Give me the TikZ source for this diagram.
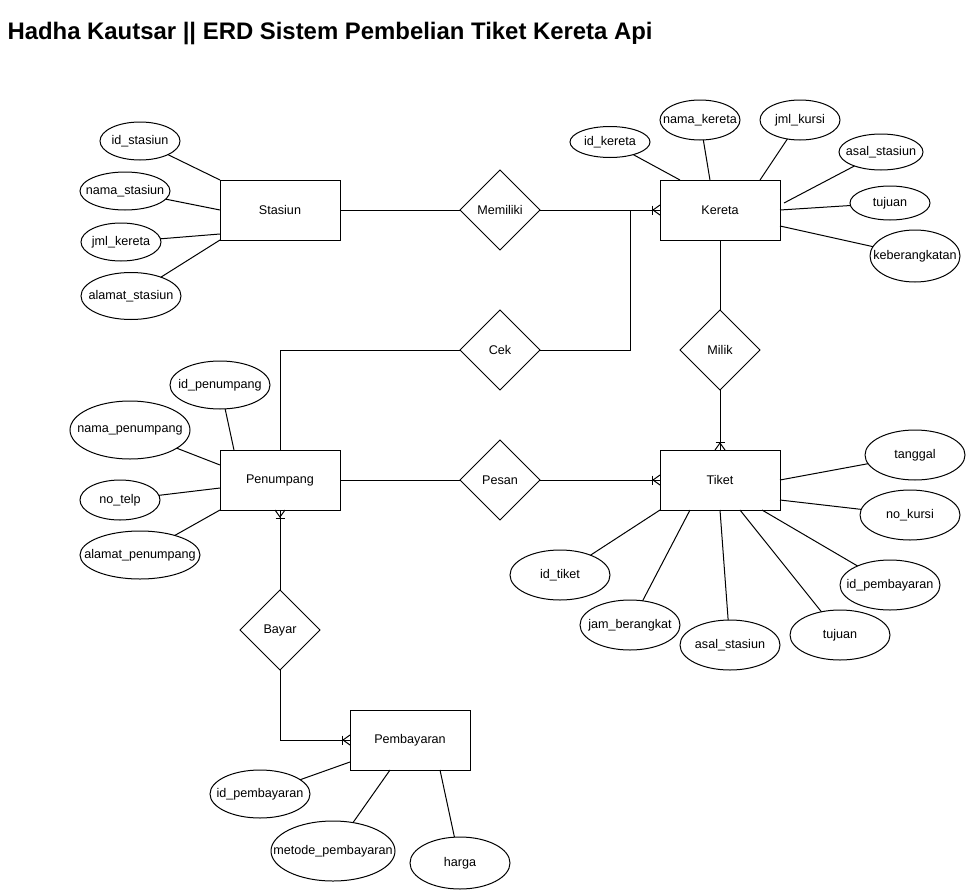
\documentclass[tikz,border=0pt]{standalone}
\usepackage{fontspec}
\setmainfont{Liberation Sans}
\usetikzlibrary{shapes.geometric,calc}
\newcommand\lblfont{\fontsize{12.6}{14}\selectfont}
\newcommand\crowW[1]{\draw ($(#1)+(-8,-4.5)$) -- ($(#1)+(-8,4.5)$); \draw ($(#1)+(0,-5)$) -- ($(#1)+(-7,0)$) -- ($(#1)+(0,5)$);}
\newcommand\crowN[1]{\draw ($(#1)+(-4.5,-8)$) -- ($(#1)+(4.5,-8)$); \draw ($(#1)+(-5,0)$) -- ($(#1)+(0,-7)$) -- ($(#1)+(5,0)$);}
\newcommand\crowS[1]{\draw ($(#1)+(-4.5,8)$) -- ($(#1)+(4.5,8)$); \draw ($(#1)+(-5,0)$) -- ($(#1)+(0,7)$) -- ($(#1)+(5,0)$);}
\newcommand\at[1]{\makebox[0pt]{#1}}
\tikzset{
  ent/.style={draw, rectangle, minimum width=120pt, minimum height=60pt, inner sep=0pt, outer sep=0pt, font=\lblfont},
  rel/.style={draw, diamond, minimum width=80pt, minimum height=80pt, inner sep=0pt, outer sep=0pt, font=\lblfont},
  attr/.style={draw, ellipse, inner sep=0pt, outer sep=0pt, font=\lblfont},
}
\begin{document}
\begin{tikzpicture}[x=1pt,y=-1pt,line width=1pt]
\useasboundingbox (0,0) rectangle (966,891);
\fill[white] (0,0) rectangle (966,891);

\node[anchor=base west, inner sep=0pt, font=\bfseries\fontsize{23.9}{27}\selectfont] (title) at (7,39.5) {Hadha Kautsar || ERD Sistem Pembelian Tiket Kereta Api};

% entities
\node[ent] (Stasiun) at (280,210) {Stasiun};
\node[ent] (Kereta) at (720,210) {Kereta};
\node[ent] (Penumpang) at (280,480) {Penumpang};
\node[ent] (Tiket) at (720,480) {Tiket};
\node[ent] (Pembayaran) at (410,740) {Pembayaran};

% relationships
\node[rel] (Memiliki) at (500,210) {Memiliki};
\node[rel] (Cek) at (500,350) {Cek};
\node[rel] (Milik) at (720,350) {Milik};
\node[rel] (Pesan) at (500,480) {Pesan};
\node[rel] (Bayar) at (280,630) {Bayar};

% attributes Stasiun
\node[attr, minimum width=80pt, minimum height=38pt] (s1) at (140,141) {\at{id\_stasiun}};
\node[attr, minimum width=90pt, minimum height=38pt] (s2) at (125,191) {\at{nama\_stasiun}};
\node[attr, minimum width=80pt, minimum height=38pt] (s3) at (121,242) {\at{jml\_kereta}};
\node[attr, minimum width=100pt, minimum height=47pt] (s4) at (131,296) {\at{alamat\_stasiun}};

% attributes Kereta
\node[attr, minimum width=80pt, minimum height=31pt] (k1) at (610,142) {\at{id\_kereta}};
\node[attr, minimum width=80pt, minimum height=40pt] (k2) at (700,120) {\at{nama\_kereta}};
\node[attr, minimum width=80pt, minimum height=40pt] (k3) at (800,120) {\at{jml\_kursi}};
\node[attr, minimum width=84pt, minimum height=36pt] (k4) at (881,152) {\at{asal\_stasiun}};
\node[attr, minimum width=80pt, minimum height=34pt] (k5) at (890,203) {\at{tujuan}};
\node[attr, minimum width=90pt, minimum height=52pt] (k6) at (915,256) {\at{keberangkatan}};

% attributes Penumpang
\node[attr, minimum width=100pt, minimum height=48pt] (p1) at (220,385) {\at{id\_penumpang}};
\node[attr, minimum width=120pt, minimum height=58pt] (p2) at (130,430) {\at{nama\_penumpang}};
\node[attr, minimum width=80pt, minimum height=40pt] (p3) at (120,500) {\at{no\_telp}};
\node[attr, minimum width=120pt, minimum height=48pt] (p4) at (140,555) {\at{alamat\_penumpang}};

% attributes Tiket
\node[attr, minimum width=100pt, minimum height=50pt] (t1) at (915,455) {\at{tanggal}};
\node[attr, minimum width=100pt, minimum height=50pt] (t2) at (910,515) {\at{no\_kursi}};
\node[attr, minimum width=100pt, minimum height=50pt] (t3) at (890,585) {\at{id\_pembayaran}};
\node[attr, minimum width=100pt, minimum height=50pt] (t4) at (840,635) {\at{tujuan}};
\node[attr, minimum width=100pt, minimum height=50pt] (t5) at (730,645) {\at{asal\_stasiun}};
\node[attr, minimum width=100pt, minimum height=50pt] (t6) at (630,625) {\at{jam\_berangkat}};
\node[attr, minimum width=100pt, minimum height=50pt] (t7) at (560,575) {\at{id\_tiket}};

% attributes Pembayaran
\node[attr, minimum width=100pt, minimum height=48pt] (b1) at (260,794) {\at{id\_pembayaran}};
\node[attr, minimum width=124pt, minimum height=60pt] (b2) at (333,851) {\at{metode\_pembayaran}};
\node[attr, minimum width=100pt, minimum height=52pt] (b3) at (460,863) {\at{harga}};

% attribute links
\draw (s1) -- (Stasiun.north west);
\draw (s2) -- (Stasiun.west);
\draw (s3) -- ($(Stasiun.west)!0.8!(Stasiun.south west)$);
\draw (s4) -- (Stasiun.south west);

\coordinate (kfree) at ($(Kereta.east)+(4,-7)$);
\draw (k1) -- ($(Kereta.north west)!0.333!(Kereta.north)$);
\draw (k2) -- ($(Kereta.north west)!0.833!(Kereta.north)$);
\draw (k3) -- ($(Kereta.north)!0.667!(Kereta.north east)$);
\draw (k4) -- (kfree);
\draw (k5) -- (Kereta.east);
\draw (k6) -- ($(Kereta.east)!0.533!(Kereta.south east)$);

\draw (p1) -- ($(Penumpang.north west)!0.233!(Penumpang.north)$);
\draw (p2) -- ($(Penumpang.north west)!0.5!(Penumpang.west)$);
\draw (p3) -- ($(Penumpang.west)!0.267!(Penumpang.south west)$);
\draw (p4) -- (Penumpang.south west);

\draw (t1) -- (Tiket.east);
\draw (t2) -- ($(Tiket.east)!0.667!(Tiket.south east)$);
\draw (t3) -- ($(Tiket.south)!0.7!(Tiket.south east)$);
\draw (t4) -- ($(Tiket.south)!0.333!(Tiket.south east)$);
\draw (t5) -- (Tiket.south);
\draw (t6) -- ($(Tiket.south west)!0.5!(Tiket.south)$);
\draw (t7) -- (Tiket.south west);

\draw (b1) -- ($(Pembayaran.west)!0.733!(Pembayaran.south west)$);
\draw (b2) -- ($(Pembayaran.south west)!0.667!(Pembayaran.south)$);
\draw (b3) -- ($(Pembayaran.south)!0.5!(Pembayaran.south east)$);

% relationship connectors
\coordinate (jn) at ($(Memiliki.east)!0.75!(Kereta.west)$);
\draw (Stasiun.east) -- (Memiliki.west);
\draw (Memiliki.east) -- (Kereta.west);
\crowW{Kereta.west}
\draw (Penumpang.north) |- (Cek.west);
\draw (Cek.east) -| (jn);
\draw (Kereta.south) -- (Milik.north);
\draw (Milik.south) -- (Tiket.north);
\crowN{Tiket.north}
\draw (Penumpang.east) -- (Pesan.west);
\draw (Pesan.east) -- (Tiket.west);
\crowW{Tiket.west}
\draw (Penumpang.south) -- (Bayar.north);
\crowS{Penumpang.south}
\draw (Bayar.south) |- (Pembayaran.west);
\crowW{Pembayaran.west}
\end{tikzpicture}
\end{document}
